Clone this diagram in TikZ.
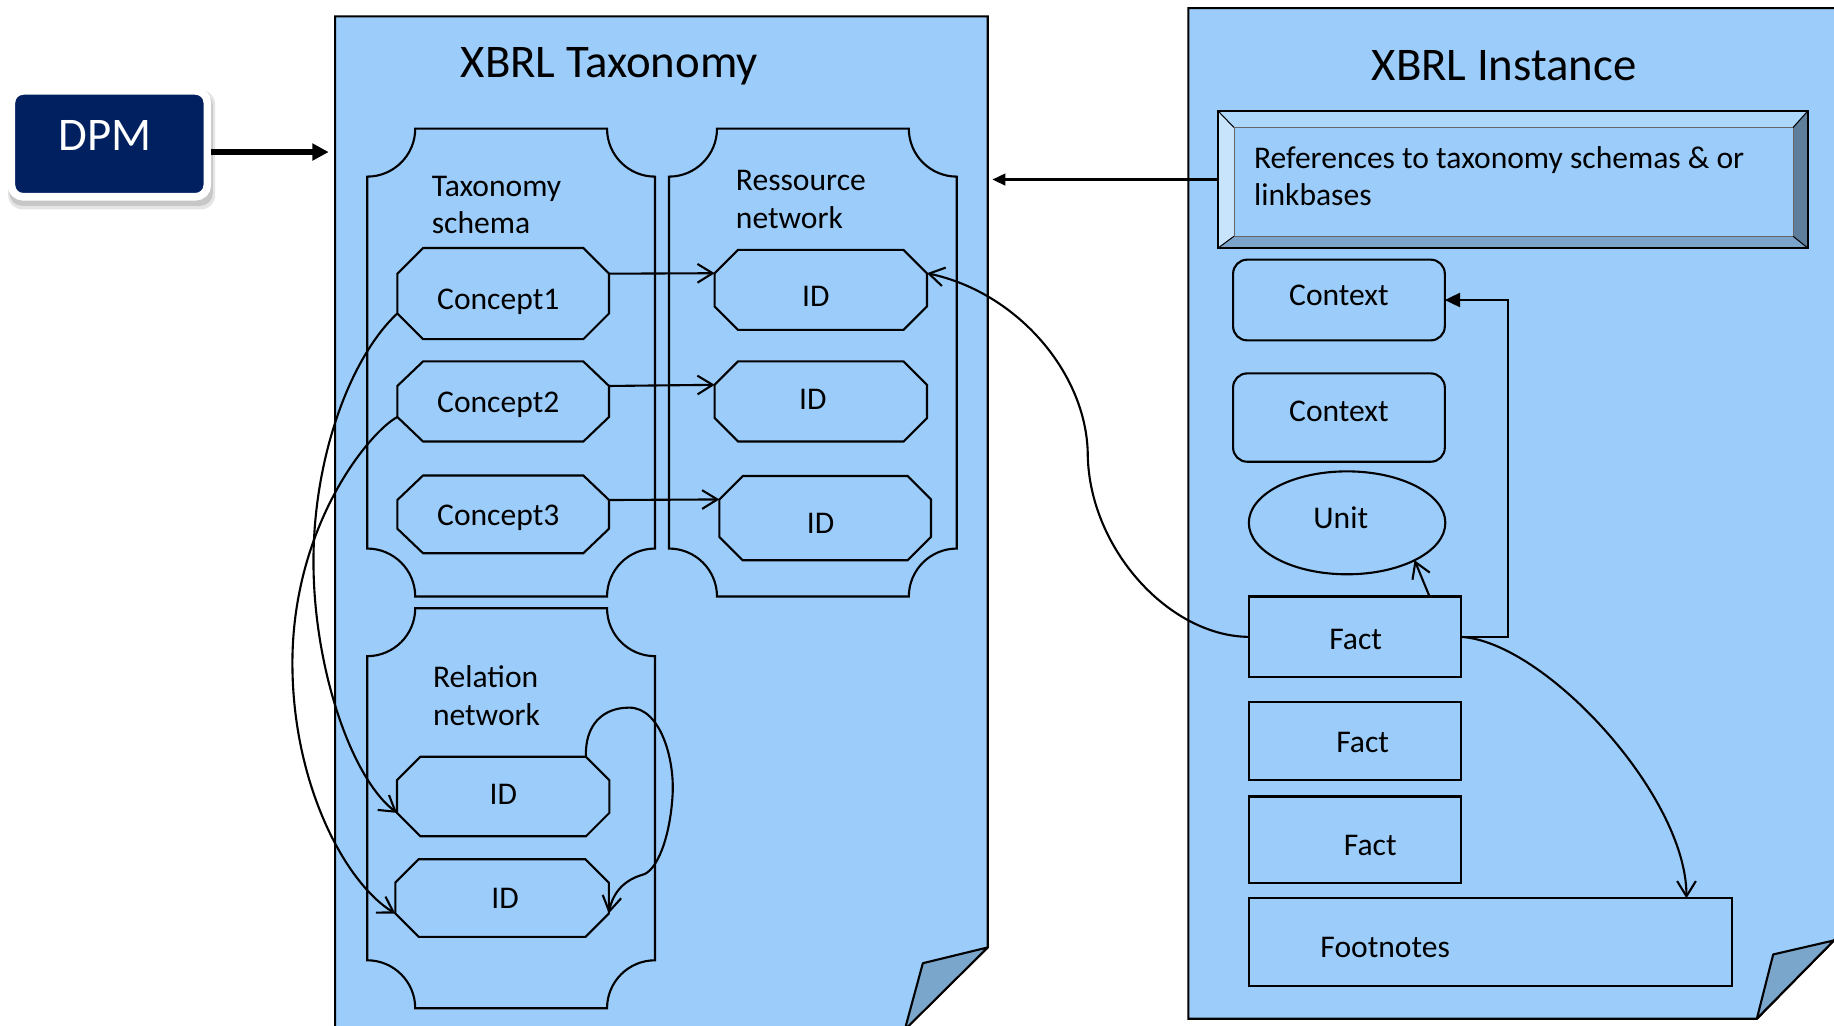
\documentclass[tikz,border=0pt]{standalone}
\usepackage{fontspec}
\setmainfont{Carlito}
\usetikzlibrary{arrows.meta,shapes.geometric}
\definecolor{pageblue}{RGB}{155,204,250}
\definecolor{foldblue}{RGB}{122,166,204}
\definecolor{dpmnavy}{RGB}{0,32,96}
\definecolor{bevtop}{RGB}{174,215,252}
\definecolor{bevleft}{RGB}{200,228,253}
\definecolor{bevright}{RGB}{94,126,156}
\definecolor{bevbot}{RGB}{124,164,203}
\newcommand\fbody{\fontsize{27}{32}\selectfont}
\newcommand\ftitle{\fontsize{40}{48}\selectfont}
\tikzset{
  docpage/.style={fill=pageblue, draw=black, line width=1.8pt},
  foldtri/.style={fill=foldblue, draw=black, line width=1.8pt, line join=round},
  plaqueline/.style={draw=black, line width=1.8pt},
  blank/.style={rectangle, inner sep=0pt, outer sep=0pt},
  octline/.style={draw=black, line width=1.8pt, fill=pageblue},
  factbox/.style={blank, draw=black, line width=1.8pt, fill=pageblue},
  ctxbox/.style={factbox, rounded corners=12pt},
  unitbox/.style={ellipse, inner sep=0pt, outer sep=0pt, draw=black, line width=1.8pt, fill=pageblue},
  lbl/.style={inner sep=0pt, anchor=base, font=\fbody},
  mlbl/.style={inner sep=0pt, anchor=base west, font=\fbody},
  ttl/.style={inner sep=0pt, anchor=base, font=\ftitle},
  conn/.style={line width=1.8pt, -{Straight Barb[length=13pt,width=16pt]}},
  connf/.style={line width=1.8pt, -{Triangle[length=13pt,width=12pt]}},
  refarrow/.style={line width=1.8pt, -{Triangle[length=11pt,width=10pt]}},
  dpmarrow/.style={line width=4.5pt, -{Triangle[length=14pt,width=14pt]}},
  dpmbox/.style={blank, rounded corners=10pt, fill=dpmnavy, draw=white, line width=6.5pt, minimum width=167.5pt, minimum height=90.5pt},
}
\newcommand\plaque[5]{\draw[plaqueline] (#1+#5,#2) -- (#3-#5,#2) .. controls (#3-#5,#2+0.552*#5) and (#3-0.552*#5,#2+#5) .. (#3,#2+#5) -- (#3,#4-#5) .. controls (#3-0.552*#5,#4-#5) and (#3-#5,#4-0.552*#5) .. (#3-#5,#4) -- (#1+#5,#4) .. controls (#1+#5,#4-0.552*#5) and (#1+0.552*#5,#4-#5) .. (#1,#4-#5) -- (#1,#2+#5) .. controls (#1+0.552*#5,#2+#5) and (#1+#5,#2+0.552*#5) .. (#1+#5,#2) -- cycle;}
\newcommand\octagon[3]{\draw[octline] ([xshift=#2]#1.north west) -- ([xshift=-#2]#1.north east) -- ([yshift=-#3]#1.north east) -- ([yshift=#3]#1.south east) -- ([xshift=-#2]#1.south east) -- ([xshift=#2]#1.south west) -- ([yshift=#3]#1.south west) -- ([yshift=-#3]#1.north west) -- cycle;}
\begin{document}
\begin{tikzpicture}[x=1pt,y=-1pt]
\fill[white] (0,0) rectangle (1568,877);
\useasboundingbox (0,0) rectangle (1568,877);
\clip (0,0) rectangle (1568,877);
% ---------- DPM
\fill[black!10, rounded corners=12pt] (7,77) rectangle (184,179);
\fill[black!22, rounded corners=11pt] (8,79) rectangle (182,176);
\node[dpmbox] (dpm) at (93.5,123) {};
\node[ttl, text=white] (dpmt) at (90,129) {DPM};
% ---------- taxonomy page
\draw[docpage] (286.5,14) -- (844.5,14) -- (844.5,810) -- (770.9,882) -- (286.5,882) -- cycle;
\draw[foldtri] (844.5,810) -- (789,823.5) -- (773.5,880.5) -- cycle;
\coordinate (taxin) at (281,130);
\coordinate (taxout) at (848.5,153.5);
\node[ttl] (taxtitle) at (521,66) {XBRL Taxonomy};
\plaque{314}{110}{560}{510}{41}
\plaque{572}{110}{818}{510}{41}
\plaque{314}{520}{560}{862}{41}
\node[mlbl] (schemalbl) at (369,168) {\begin{tabular}[t]{@{}l@{}}Taxonomy\\schema\end{tabular}};
\node[mlbl] (reslbl) at (629,163) {\begin{tabular}[t]{@{}l@{}}Ressource\\network\end{tabular}};
\node[mlbl] (rellbl) at (370,588) {\begin{tabular}[t]{@{}l@{}}Relation\\network\end{tabular}};
% concepts
\node[blank, minimum width=181pt, minimum height=78pt] (c1) at (430.2,251) {};
\node[blank, minimum width=181pt, minimum height=68.5pt] (c2) at (430.2,343.25) {};
\node[blank, minimum width=181pt, minimum height=66.5pt] (c3) at (430.2,439.75) {};
\octagon{c1}{22pt}{22pt}
\octagon{c2}{22pt}{21pt}
\octagon{c3}{22pt}{21pt}
\node[lbl] (c1t) at (426,265) {Concept1};
\node[lbl] (c2t) at (426,353) {Concept2};
\node[lbl] (c3t) at (426,449.5) {Concept3};
% resource IDs
\node[blank, minimum width=181.5pt, minimum height=68.4pt] (id1) at (701.75,247.8) {};
\node[blank, minimum width=181.5pt, minimum height=68.5pt] (id2) at (701.75,343.25) {};
\node[blank, minimum width=181pt, minimum height=72pt] (id3) at (705.5,443) {};
\octagon{id1}{20pt}{20pt}
\octagon{id2}{20pt}{20pt}
\octagon{id3}{20pt}{20pt}
\node[lbl] (id1t) at (697.5,262) {ID};
\node[lbl] (id2t) at (695,350) {ID};
\node[lbl] (id3t) at (701.5,456) {ID};
% relation IDs
\node[blank, minimum width=181.5pt, minimum height=68pt] (ra) at (430.2,681) {};
\node[blank, minimum width=182.5pt, minimum height=66.4pt] (rb) at (429.25,767.8) {};
\octagon{ra}{20pt}{20pt}
\octagon{rb}{20pt}{20pt}
\node[lbl] (rat) at (430.4,688) {ID};
\node[lbl] (rbt) at (431.8,776.5) {ID};
% ---------- instance page
\draw[docpage] (1016,7) -- (1580,7) -- (1580,791.8) -- (1502,871) -- (1016,871) -- cycle;
\draw[foldtri] (1502,871) -- (1516,816) -- (1568,804) -- cycle;
\node[ttl] (insttitle) at (1286,68.5) {XBRL Instance};
% references bevel box
\fill[bevtop] (1041.5,95) -- (1545.5,95) -- (1533,109) -- (1055,109) -- cycle;
\fill[bevleft] (1041.5,95) -- (1055,109) -- (1055,202) -- (1041.5,212) -- cycle;
\fill[bevright] (1545.5,95) -- (1545.5,212) -- (1533,202) -- (1533,109) -- cycle;
\fill[bevbot] (1041.5,212) -- (1055,202) -- (1533,202) -- (1545.5,212) -- cycle;
\fill[pageblue] (1055,109) rectangle (1533,202);
\draw[black!60, line width=0.8pt] (1055,109) rectangle (1533,202);
\draw[black, line width=0.9pt] (1041.5,95) -- (1055,109) (1545.5,95) -- (1533,109) (1041.5,212) -- (1055,202) (1545.5,212) -- (1533,202);
\node[blank, draw=black, line width=1.8pt, minimum width=504pt, minimum height=117pt] (ref) at (1293.5,153.5) {};
\node[mlbl] (reflbl) at (1072,144) {\begin{tabular}[t]{@{}l@{}}References to taxonomy schemas \& or\\linkbases\end{tabular}};
% instance items
\node[ctxbox, minimum width=181pt, minimum height=69pt] (ctx1) at (1144.75,256.5) {};
\node[ctxbox, minimum width=181pt, minimum height=75.5pt] (ctx2) at (1144.75,357) {};
\node[unitbox, minimum width=168pt, minimum height=88pt] (unit) at (1151.7,447) {};
\node[factbox, minimum width=181pt, minimum height=69pt] (f1) at (1158.2,544.5) {};
\node[factbox, minimum width=181pt, minimum height=67pt] (f2) at (1158.2,633.5) {};
\node[factbox, minimum width=181pt, minimum height=74pt] (f3) at (1158.2,718) {};
\node[factbox, minimum width=413.3pt, minimum height=75pt] (fn) at (1274.35,805.5) {};
\node[lbl] (ctx1t) at (1144.8,261) {Context};
\node[lbl] (ctx2t) at (1144.8,360.4) {Context};
\node[lbl] (unitt) at (1146.3,452) {Unit};
\node[lbl] (f1t) at (1159,555) {Fact};
\node[lbl] (f2t) at (1165,643) {Fact};
\node[lbl] (f3t) at (1171.5,731) {Fact};
\node[lbl] (fnt) at (1184.3,819) {Footnotes};
% ---------- connectors
\draw[dpmarrow] ([xshift=3pt,yshift=-7pt]dpm.east) -- (taxin);
\draw[refarrow] (ref.west) -- (taxout);
\draw[conn] ([yshift=-22pt]c1.north east) -- ([yshift=-20pt]id1.north west);
\draw[conn] ([yshift=-21pt]c2.north east) -- ([yshift=-20pt]id2.north west);
\draw[conn] ([yshift=-21pt]c3.north east) -- ([yshift=-20pt]id3.north west);
\draw[conn] ([yshift=22pt]c1.south west) .. controls (300,305) and (268,390) .. (268,480) .. controls (268,570) and (300,665) .. ([yshift=20pt]ra.south west);
\draw[conn] ([yshift=21pt]c2.south west) .. controls (315,370) and (250,450) .. (250,567) .. controls (250,670) and (295,755) .. ([yshift=20pt]rb.south west);
\draw[conn] ([xshift=-20pt]ra.north east) .. controls (500,620) and (515,605) .. (538,605) .. controls (565,605) and (577,650) .. (575,680) .. controls (573,715) and (562,745) .. (549,748) .. controls (535,752) and (524,762) .. ([yshift=20pt]rb.south east);
\draw[conn] (f1.west) .. controls (1000,544) and (932,470) .. (930,390) .. controls (930,320) and (870,250) .. ([yshift=-20pt]id1.north east);
\draw[conn] ([xshift=64pt]f1.north) -- (unit.-29);
\draw[connf] (f1.east) -- ++(40.5,0) |- (ctx1.east);
\draw[conn] (f1.east) .. controls (1320,548) and (1442,680) .. ([xshift=167.5pt]fn.north);
\end{tikzpicture}
\end{document}
